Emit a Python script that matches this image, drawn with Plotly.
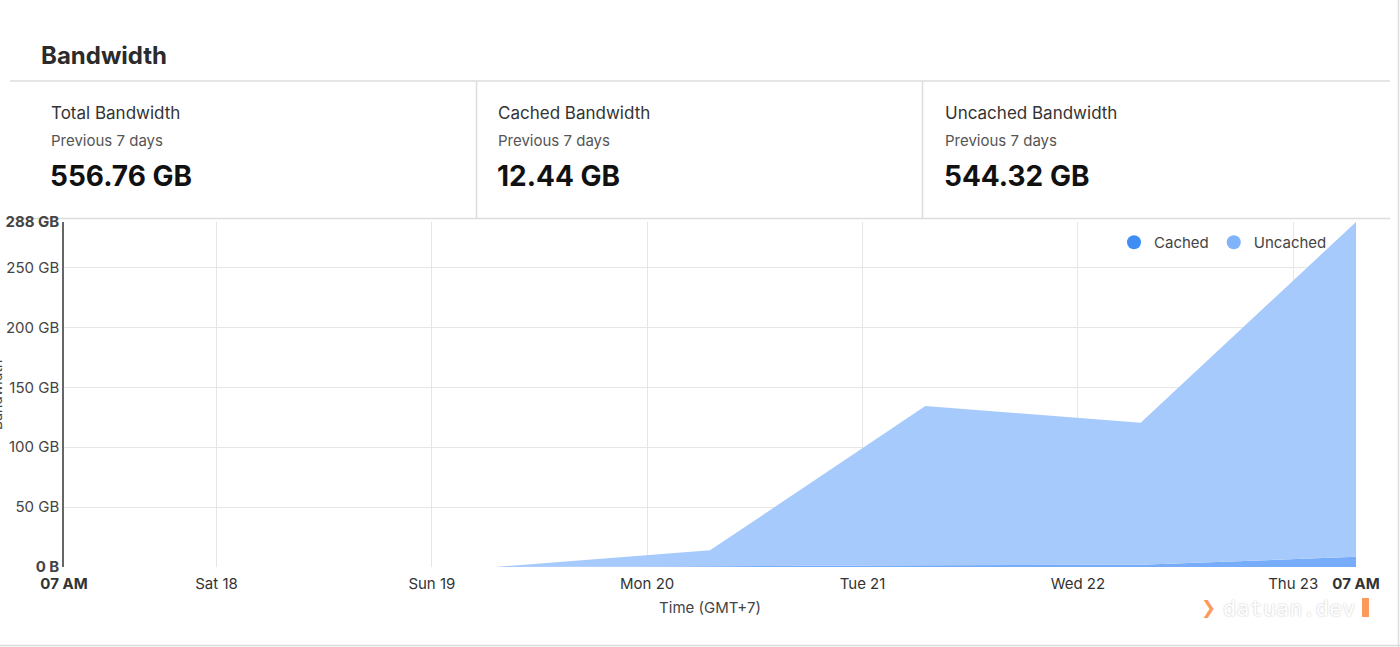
import plotly.graph_objects as go

# ---- data ----
times = ["2024-05-17 07:00", "2024-05-18 07:00", "2024-05-19 07:00", "2024-05-20 07:00",
         "2024-05-21 07:00", "2024-05-22 07:00", "2024-05-23 07:00"]
cached = [0, 0, 0.03, 0.6, 1.4, 1.8, 8.6]
uncached = [0, 0, 0.05, 13.3, 132.9, 118.7, 279.4]

x_tick_vals = ["2024-05-17 07:00", "2024-05-18", "2024-05-19", "2024-05-20", "2024-05-21",
               "2024-05-22", "2024-05-23", "2024-05-23 07:00"]
x_tick_text = ["<b>07 AM</b>", "Sat 18", "Sun 19", "Mon 20", "Tue 21", "Wed 22", "Thu 23", "<b>07 AM</b>"]
y_tick_vals = [0, 50, 100, 150, 200, 250, 288]
y_tick_text = ["<b>0 B</b>", "50 GB", "100 GB", "150 GB", "200 GB", "250 GB", "<b>288 GB</b>"]

card_titles = ["Total Bandwidth", "Cached Bandwidth", "Uncached Bandwidth"]
card_sub = ["Previous 7 days"] * 3
card_values = ["556.76 GB", "12.44 GB", "544.32 GB"]

W, H = 1400, 647
L, R, T, B = 64, 44, 222, 80
PW, PH = W - L - R, H - T - B
FONT = "Inter, 'Noto Sans', sans-serif"

def px(x):
    return (x - L) / PW

def py(y):
    return (H - B - y) / PH

fig = go.Figure()
fig.add_trace(go.Scatter(x=times, y=cached, stackgroup="bw", mode="none",
                         fillcolor="rgba(118,172,250,1)", name="Cached", showlegend=False))
fig.add_trace(go.Scatter(x=times, y=uncached, stackgroup="bw", mode="none",
                         fillcolor="rgba(166,202,252,1)", name="Uncached", showlegend=False))
# legend entries with circle markers
fig.add_trace(go.Scatter(x=[None], y=[None], mode="markers", name="Cached",
                         marker=dict(symbol="circle", size=14, color="#3f8ef6")))
fig.add_trace(go.Scatter(x=[None], y=[None], mode="markers", name="Uncached",
                         marker=dict(symbol="circle", size=14, color="#80b3fa")))

ymax = max(c + u for c, u in zip(cached, uncached))

fig.update_layout(
    width=W, height=H,
    margin=dict(l=L, r=R, t=T, b=B, autoexpand=False),
    paper_bgcolor="white", plot_bgcolor="white",
    font=dict(family=FONT, size=15, color="#444"),
    showlegend=True,
    legend=dict(orientation="h", x=px(1332), xanchor="right", y=py(226), yanchor="top",
                font=dict(size=15, color="#444"), bgcolor="rgba(0,0,0,0)",
                traceorder="normal", itemwidth=30, tracegroupgap=0),
    xaxis=dict(range=[times[0], times[-1]], tickmode="array", tickvals=x_tick_vals,
               ticktext=x_tick_text, showgrid=True, gridcolor="#e6e6e6", gridwidth=1,
               zeroline=False, showline=False, ticks="", ticklabelstandoff=6, automargin=False,
               tickfont=dict(size=15, color="#333"),
               title=dict(text="Time (GMT+7)", font=dict(size=15, color="#444"), standoff=10)),
    yaxis=dict(range=[0, ymax], tickmode="array", tickvals=y_tick_vals, ticktext=y_tick_text,
               showgrid=True, gridcolor="#e6e6e6", gridwidth=1, zeroline=False, automargin=False,
               showline=True, linecolor="#666", linewidth=1.5, ticks="",
               ticklabelstandoff=0, tickfont=dict(size=15, color="#444")),
)

shapes = []
line_col = "#dcdcdc"
def hline(y, x0, x1, layer="above"):
    shapes.append(dict(type="line", xref="paper", yref="paper", x0=px(x0), x1=px(x1),
                       y0=py(y), y1=py(y), line=dict(color=line_col, width=1.5), layer=layer))
def vline(x, y0, y1):
    shapes.append(dict(type="line", xref="paper", yref="paper", x0=px(x), x1=px(x),
                       y0=py(y0), y1=py(y1), line=dict(color=line_col, width=1.5), layer="above"))

hline(81, 10, 1390)
hline(218.5, 10, 1390, layer="below")
vline(476.5, 81, 218)
vline(922.5, 81, 218)
vline(1398.5, 0, 647)
hline(645.5, 0, 1400)
# watermark cursor block
shapes.append(dict(type="rect", xref="paper", yref="paper", x0=px(1362), x1=px(1369),
                   y0=py(617), y1=py(598), fillcolor="#fb9a5c", line=dict(width=0), layer="above"))
fig.update_layout(shapes=shapes)

ann = []
ann.append(dict(text="<b>Bandwidth</b>", x=px(39), y=py(55), xref="paper", yref="paper",
                xanchor="left", yanchor="middle", showarrow=False,
                font=dict(size=24, color="#2b2b2b", family=FONT)))
card_x = [50, 497, 944]
for cx, t, s, v in zip(card_x, card_titles, card_sub, card_values):
    ann.append(dict(text=t, x=px(cx - 1), y=py(113), xref="paper", yref="paper", xanchor="left",
                    yanchor="middle", showarrow=False, font=dict(size=17, color="#333", family=FONT)))
    ann.append(dict(text=s, x=px(cx - 1), y=py(140), xref="paper", yref="paper", xanchor="left",
                    yanchor="middle", showarrow=False, font=dict(size=15, color="#555", family=FONT)))
    ann.append(dict(text="<b>" + v + "</b>", x=px(cx - 2), y=py(176), xref="paper", yref="paper",
                    xanchor="left", yanchor="middle", showarrow=False,
                    font=dict(size=28, color="#111", family=FONT)))
# y-axis title, mostly clipped at left edge (as in the reference)
ann.append(dict(text="Bandwidth", x=px(-4), y=py(395), xref="paper", yref="paper",
                xanchor="center", yanchor="middle", textangle=-90, showarrow=False,
                font=dict(size=14, color="#444", family=FONT)))
# watermark
ann.append(dict(text="<b>❯</b>", x=px(1208), y=py(608), xref="paper", yref="paper",
                xanchor="center", yanchor="middle", showarrow=False,
                font=dict(size=18, color="#fb9a5c", family="DejaVu Sans")))
ann.append(dict(text="datuan.dev", x=px(1221), y=py(608), xref="paper", yref="paper",
                xanchor="left", yanchor="middle", showarrow=False,
                font=dict(size=22, color="#ffffff", family="DejaVu Sans Mono",
                          shadow="0px 0px 2px #bbbbbb")))
fig.update_layout(annotations=ann)

fig.write_html("out.html")
